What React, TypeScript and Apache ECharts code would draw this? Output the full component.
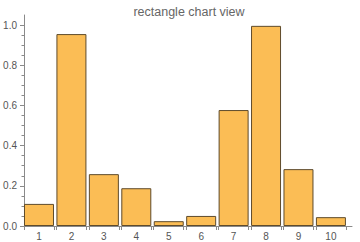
import React, { useEffect, useRef } from "react";
import * as echarts from "echarts";

const categories = ["1", "2", "3", "4", "5", "6", "7", "8", "9", "10"];
const values = [0.11, 0.955, 0.258, 0.188, 0.024, 0.05, 0.577, 0.996, 0.283, 0.044];
const yMajorTicks = [0, 0.2, 0.4, 0.6, 0.8, 1.0];
const yMinorTicks = [
  0.05, 0.1, 0.15, 0.25, 0.3, 0.35, 0.45, 0.5, 0.55, 0.65, 0.7, 0.75, 0.85, 0.9, 0.95,
];
const titleText = "rectangle chart view";

const BAR_HALF = 0.4624;

export default function App() {
  const ref = useRef<HTMLDivElement>(null);
  useEffect(() => {
    if (!ref.current) return;
    const chart = echarts.init(ref.current, undefined, { renderer: "svg" });
    const positions = categories.map((_, i) => i + 1);
    const edges: number[] = [];
    positions.forEach((p) => {
      edges.push(p - BAR_HALF, p + BAR_HALF);
    });
    const axisColor = "#8a8a8a";
    const labelColor = "#555";
    const font = "Liberation Sans, Arial, sans-serif";
    chart.setOption({
      animation: false,
      backgroundColor: "#fff",
      title: {
        text: titleText,
        left: 184,
        textAlign: "center",
        top: 0,
        textStyle: { fontSize: 12.5, fontWeight: "normal", color: "#666", fontFamily: font },
      },
      grid: { left: 24, right: 8, top: 15, bottom: 16, containLabel: false },
      xAxis: {
        type: "value",
        min: 1 - BAR_HALF,
        max: 10.65,
        splitLine: { show: false },
        axisLine: { show: true, lineStyle: { color: axisColor, width: 1 } },
        axisTick: {
          show: true,
          customValues: edges,
          length: 4,
          inside: false,
          lineStyle: { color: axisColor },
        },
        axisLabel: {
          customValues: positions,
          formatter: (v: number) => categories[Math.round(v) - 1] ?? "",
          color: labelColor,
          fontSize: 10,
          fontFamily: font,
          margin: 5,
        },
      },
      yAxis: [
        {
          type: "value",
          min: 0,
          max: 1.05,
          splitLine: { show: false },
          axisLine: { show: true, lineStyle: { color: axisColor, width: 1 } },
          axisTick: {
            show: true,
            customValues: yMajorTicks,
            length: 4,
            lineStyle: { color: axisColor },
          },
          axisLabel: {
            customValues: yMajorTicks,
            formatter: (v: number) => v.toFixed(1),
            color: labelColor,
            fontSize: 10,
            fontFamily: font,
            margin: 7,
          },
        },
        {
          type: "value",
          min: 0,
          max: 1.05,
          position: "left",
          splitLine: { show: false },
          axisLine: { show: false },
          axisTick: {
            show: true,
            customValues: yMinorTicks,
            length: 2.5,
            lineStyle: { color: axisColor },
          },
          axisLabel: { show: false },
        },
      ],
      series: [
        {
          type: "bar",
          yAxisIndex: 0,
          barWidth: 30,
          data: positions.map((p, i) => [p, values[i]]),
          itemStyle: {
            color: "#fbbd55",
            borderColor: "#5e4b2c",
            borderWidth: 1,
          },
        },
      ],
    });
    return () => chart.dispose();
  }, []);
  return (
    <div
      ref={ref}
      style={{ position: "fixed", left: 0, top: 0, width: 360, height: 242 }}
    />
  );
}
